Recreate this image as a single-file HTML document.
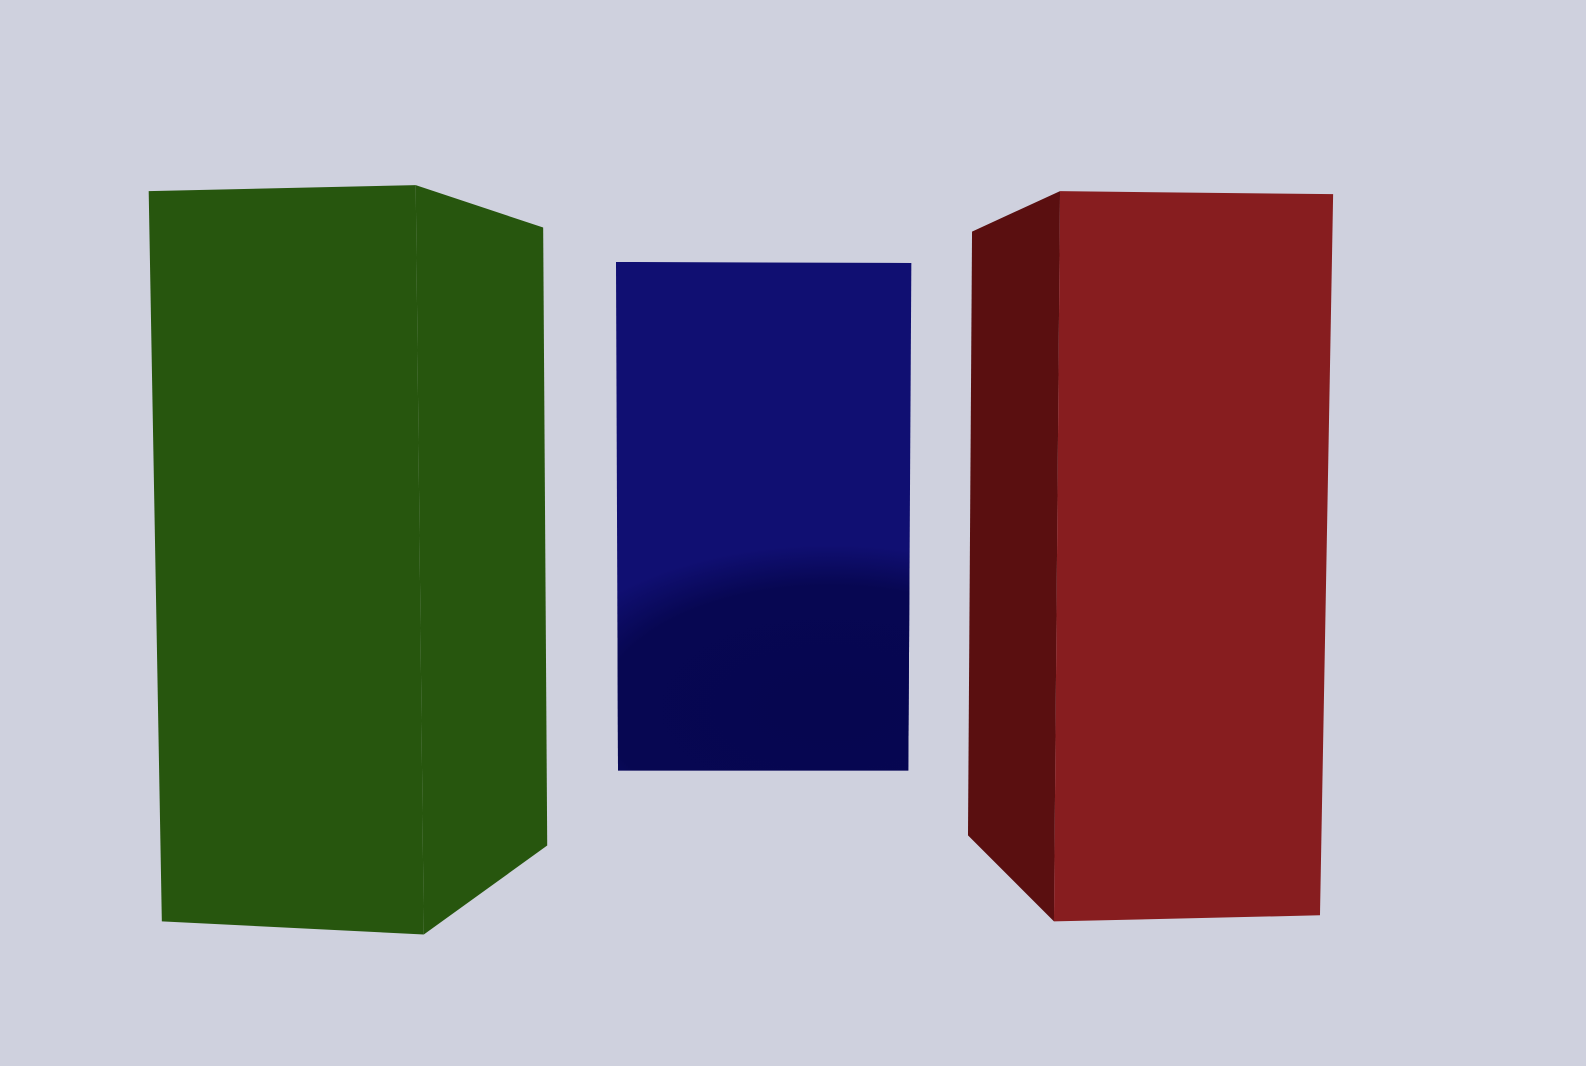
<!DOCTYPE html>
<html><head><meta charset="utf-8"><style>
html,body{margin:0;padding:0;background:#cfd1de;}
svg{display:block}
</style></head><body>
<svg width="1586" height="1066" viewBox="0 0 1568 1054" preserveAspectRatio="none">
<defs>
<radialGradient id="bshade" cx="820" cy="700" r="230" gradientUnits="userSpaceOnUse" gradientTransform="translate(820 700) scale(1.3 0.7) translate(-820 -700)">
<stop offset="0" stop-color="#060650"/><stop offset="0.75" stop-color="#070752"/><stop offset="1" stop-color="#070752" stop-opacity="0"/>
</radialGradient>
</defs>
<rect x="0" y="0" width="1568" height="1054" fill="#cfd1de"/>
<g>
<polygon points="147,189 411,183 419,924 160,911" fill="#27560e"/>
<polygon points="411,183 537,225 541,836 419,924" fill="#27560e"/>
</g>
<g>
<polygon points="609,259 901,260 898,762 611,762" fill="#100f72"/>
<clipPath id="bc"><polygon points="609,259 901,260 898,762 611,762"/></clipPath>
<rect x="600" y="520" width="310" height="250" fill="url(#bshade)" clip-path="url(#bc)"/>
</g>
<g>
<polygon points="961,229 1048,189 1042,911 957,826" fill="#5a0f10"/>
<polygon points="1048,189 1318,192 1305,905 1042,911" fill="#871d1f"/>
</g>
</svg>
</body></html>
